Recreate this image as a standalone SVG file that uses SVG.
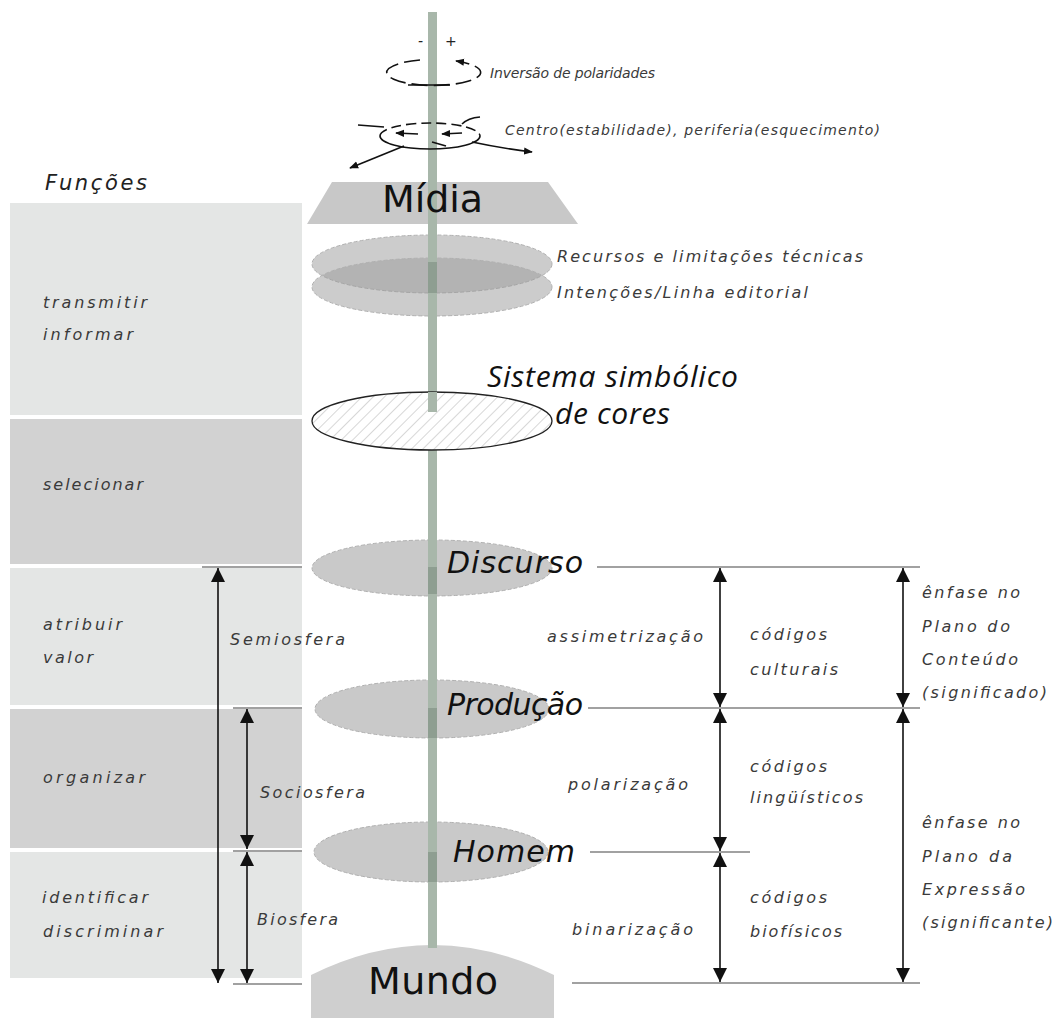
<svg xmlns="http://www.w3.org/2000/svg" width="1060" height="1018" viewBox="0 0 1060 1018">
<defs>
<style>
.t{font-family:"DejaVu Sans","Liberation Sans",sans-serif;font-style:oblique;fill:#3a3a3a;font-size:16px}
.s{font-size:14px}
.m{font-size:16px}
.big{font-family:"DejaVu Sans","Liberation Sans",sans-serif;font-size:38px;fill:#111}
.node{font-family:"DejaVu Sans","Liberation Sans",sans-serif;font-style:oblique;font-size:30px;fill:#111}
.sys{font-family:"Open Sans","Liberation Sans",sans-serif;font-style:italic;font-size:30px;fill:#111}
.disc{fill:#c9c9c9;stroke:#b0b0b0;stroke-width:1;stroke-dasharray:4 2}
.pole{fill:#a8b7aa}
.poled{fill:#8e9e91}
.hl{stroke:#444;stroke-width:1.2;fill:none}
.ar{stroke:#111;stroke-width:1.6;fill:none;marker-start:url(#ah);marker-end:url(#ah)}
.ic{stroke:#111;stroke-width:1.6;fill:none}
</style>
<marker id="ah" viewBox="0 0 14 14" refX="14" refY="7" markerWidth="14" markerHeight="14" markerUnits="userSpaceOnUse" orient="auto-start-reverse"><path d="M0,0 L14,7 L0,14 Z" fill="#111"/></marker>
<marker id="sa" viewBox="0 0 10 10" refX="9" refY="5" markerWidth="9" markerHeight="9" markerUnits="userSpaceOnUse" orient="auto"><path d="M0,1 L10,5 L0,9 Z" fill="#111"/></marker>
<pattern id="hatch" width="8" height="8" patternUnits="userSpaceOnUse" patternTransform="rotate(45)"><rect width="8" height="8" fill="#fff"/><line x1="0" y1="0" x2="0" y2="8" stroke="#bdbdbd" stroke-width="1.2"/></pattern>
</defs>
<rect width="1060" height="1018" fill="#fff"/>

<g id="funcoes">
<text class="t" x="45" y="190" style="font-size:21px;fill:#222" textLength="102">Funções</text>
<rect x="10" y="203" width="292" height="212" fill="#e4e6e5"/>
<rect x="10" y="419" width="292" height="145" fill="#d2d2d2"/>
<rect x="10" y="568" width="292" height="137" fill="#e4e6e5"/>
<rect x="10" y="709" width="292" height="139" fill="#d2d2d2"/>
<rect x="10" y="852" width="292" height="126" fill="#e4e6e5"/>
<text class="t" x="43" y="308" textLength="104">transmitir</text>
<text class="t" x="43" y="340" textLength="90">informar</text>
<text class="t" x="43" y="490" textLength="100">selecionar</text>
<text class="t" x="43" y="630" textLength="79">atribuir</text>
<text class="t" x="43" y="663" textLength="50">valor</text>
<text class="t" x="43" y="783" textLength="102">organizar</text>
<text class="t" x="42" y="903" textLength="106">identificar</text>
<text class="t" x="43" y="937" textLength="120">discriminar</text>
</g>

<g id="midia">
<path d="M332 182 L548 182 L578 224 L307 224 Z" fill="#c8c8c8"/>
</g>
<g id="mundo">
<path d="M311 975 Q432 915 554 975 L554 1018 L311 1018 Z" fill="#cfcfcf"/>
</g>

<g id="recursos">
<ellipse cx="432" cy="264" rx="120" ry="29" fill="#9a9a9a" fill-opacity="0.5" stroke="#b0b0b0" stroke-dasharray="4 2"/>
<ellipse cx="432" cy="287" rx="120" ry="29" fill="#9a9a9a" fill-opacity="0.5" stroke="#b0b0b0" stroke-dasharray="4 2"/>
</g>
<g id="discurso-disc"><ellipse class="disc" cx="432" cy="568" rx="120" ry="28"/></g>
<g id="producao-disc"><ellipse class="disc" cx="432" cy="709" rx="117" ry="29"/></g>
<g id="homem-disc"><ellipse class="disc" cx="431" cy="852" rx="117" ry="30"/></g>

<g id="pole">
<rect class="pole" x="428" y="12" width="9" height="400"/>
<rect class="pole" x="428" y="440" width="9" height="508"/>
<rect class="poled" x="428" y="262" width="9" height="31"/>
<rect class="poled" x="428" y="567" width="9" height="27"/>
<rect class="poled" x="428" y="708" width="9" height="30"/>
<rect class="poled" x="428" y="852" width="9" height="30"/>
</g>

<g id="sistema">
<ellipse cx="432" cy="421" rx="120" ry="29" fill="url(#hatch)" stroke="#222" stroke-width="1.3"/>
<rect class="pole" x="428" y="392" width="9" height="20"/>
<text class="sys" x="487" y="387" textLength="251">Sistema simbólico</text>
<text class="sys" x="555" y="424" textLength="115">de cores</text>
</g>

<g id="inversao">
<text class="t s" x="418" y="46" style="fill:#222">-</text>
<text class="t s" x="445" y="46" style="fill:#222">+</text>
<path class="ic" d="M420 60 A47 13 0 1 0 456 61" stroke-dasharray="16 6" marker-end="url(#sa)"/>
<line class="ic" x1="408" y1="85" x2="450" y2="85" stroke-width="2"/>
<text class="t s" x="490" y="78" textLength="165">Inversão de polaridades</text>
</g>

<g id="centro">
<path class="ic" d="M380 136 A50 13 0 0 1 480 136" stroke-dasharray="10 5"/>
<path class="ic" d="M380 136 A50 13 0 0 0 480 136"/>
<line class="ic" x1="358" y1="125" x2="384" y2="127"/>
<path class="ic" d="M462 124 Q468 118 480 117"/>
<line class="ic" x1="404" y1="146" x2="350" y2="168" marker-end="url(#sa)"/>
<path class="ic" d="M472 142 Q500 148 532 152" marker-end="url(#sa)"/>
<line class="ic" x1="418" y1="134" x2="396" y2="133" marker-end="url(#sa)"/>
<line class="ic" x1="462" y1="133" x2="442" y2="134" marker-end="url(#sa)"/>
<line class="ic" x1="432" y1="142" x2="446" y2="146"/>
<text class="t s" x="505" y="135" textLength="375">Centro(estabilidade), periferia(esquecimento)</text>
</g>

<g id="labels">
<text class="big" x="382" y="212" textLength="101">Mídia</text>
<text class="big" x="368" y="994" textLength="130">Mundo</text>
<text class="t m" x="557" y="262" textLength="306">Recursos e limitações técnicas</text>
<text class="t m" x="557" y="298" textLength="251">Intenções/Linha editorial</text>
<text class="node" x="447" y="573" textLength="136">Discurso</text>
<text class="node" x="447" y="715" textLength="136">Produção</text>
<text class="node" x="453" y="862" textLength="122">Homem</text>
</g>

<g id="connectors">
<line class="hl" x1="202" y1="567" x2="302" y2="567"/>
<line class="hl" x1="233" y1="708" x2="302" y2="708"/>
<line class="hl" x1="233" y1="851" x2="302" y2="851"/>
<line class="hl" x1="233" y1="984" x2="302" y2="984"/>
<line class="ar" x1="218" y1="568" x2="218" y2="983"/>
<line class="ar" x1="247" y1="709" x2="247" y2="849"/>
<line class="ar" x1="247" y1="852" x2="247" y2="983"/>
<line class="hl" x1="597" y1="567" x2="920" y2="567"/>
<line class="hl" x1="588" y1="708" x2="920" y2="708"/>
<line class="hl" x1="590" y1="852" x2="750" y2="852"/>
<line class="hl" x1="572" y1="983" x2="920" y2="983"/>
<line class="ar" x1="720" y1="568" x2="720" y2="707"/>
<line class="ar" x1="720" y1="709" x2="720" y2="851"/>
<line class="ar" x1="720" y1="853" x2="720" y2="982"/>
<line class="ar" x1="903" y1="568" x2="903" y2="707"/>
<line class="ar" x1="903" y1="709" x2="903" y2="982"/>
</g>

<g id="edge-labels">
<text class="t" x="230" y="645" textLength="115">Semiosfera</text>
<text class="t" x="260" y="798" textLength="105">Sociosfera</text>
<text class="t" x="257" y="925" textLength="81">Biosfera</text>
<text class="t m" x="547" y="642" textLength="156">assimetrização</text>
<text class="t m" x="568" y="790" textLength="120">polarização</text>
<text class="t m" x="572" y="935" textLength="121">binarização</text>
<text class="t m" x="750" y="640" textLength="77">códigos</text>
<text class="t m" x="750" y="675" textLength="88">culturais</text>
<text class="t m" x="750" y="772" textLength="77">códigos</text>
<text class="t m" x="750" y="803" textLength="113">lingüísticos</text>
<text class="t m" x="750" y="903" textLength="77">códigos</text>
<text class="t m" x="750" y="937" textLength="92">biofísicos</text>
<text class="t m" x="922" y="598" textLength="98">ênfase no</text>
<text class="t m" x="922" y="632" textLength="88">Plano do</text>
<text class="t m" x="922" y="665" textLength="96">Conteúdo</text>
<text class="t m" x="922" y="698" textLength="125">(significado)</text>
<text class="t m" x="922" y="828" textLength="98">ênfase no</text>
<text class="t m" x="922" y="862" textLength="90">Plano da</text>
<text class="t m" x="922" y="895" textLength="103">Expressão</text>
<text class="t m" x="922" y="928" textLength="131">(significante)</text>
</g>
</svg>
